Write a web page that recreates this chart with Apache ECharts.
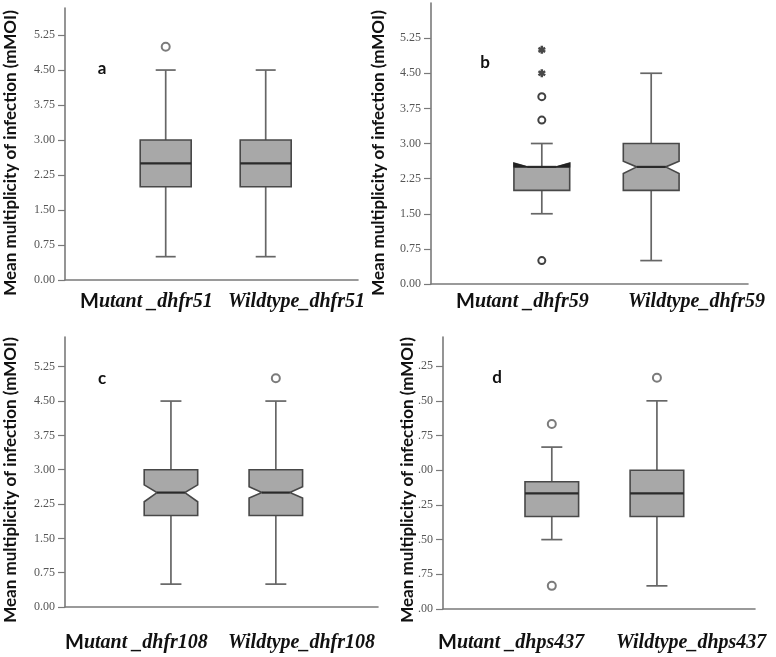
<!DOCTYPE html>
<html>
<head>
<meta charset="utf-8">
<script src="https://cdn.jsdelivr.net/npm/echarts@6/dist/echarts.min.js"></script>
<style>
  html, body { margin: 0; padding: 0; background: #fff; }
  #chart { width: 776px; height: 657px; }
</style>
</head>
<body>
<div id="chart"></div>
<script>
// tick labels shared by all four panels
const tickValues = [0, 0.75, 1.5, 2.25, 3, 3.75, 4.5, 5.25];
const panelLetters = ['a', 'b', 'c', 'd'];

// categories per panel
const categoriesA = ['Mutant _dhfr51', 'Wildtype_dhfr51'];
const categoriesB = ['Mutant _dhfr59', 'Wildtype_dhfr59'];
const categoriesC = ['Mutant _dhfr108', 'Wildtype_dhfr108'];
const categoriesD = ['Mutant _dhps437', 'Wildtype_dhps437'];

// [lower whisker, Q1, median, Q3, upper whisker]
const boxesA = [[0.5, 2.0, 2.5, 3.0, 4.5], [0.5, 2.0, 2.5, 3.0, 4.5]];
const boxesB = [[1.5, 2.0, 2.5, 2.5, 3.0], [0.5, 2.0, 2.5, 3.0, 4.5]];
const boxesC = [[0.5, 2.0, 2.5, 3.0, 4.5], [0.5, 2.0, 2.5, 3.0, 4.5]];
const boxesD = [[1.5, 2.0, 2.5, 2.75, 3.5], [0.5, 2.0, 2.5, 3.0, 4.5]];

// notch [low, high] (only panels b and c are notched)
const notchesB = [[2.5, 2.58], [2.36, 2.62]];
const notchesC = [[2.30, 2.67], [2.38, 2.63]];

// outliers (circles) and extremes (asterisks)
const outliersA = [[5.0], []];
const outliersB = [[4.0, 3.5, 0.5], []];
const extremesB = [[5.0, 4.5], []];
const outliersC = [[], [5.0]];
const outliersD = [[4.0, 0.5], [5.0]];

// page layout of the four panels
const layout = [
  { grid: { left: 65, top: 8, width: 293, height: 272 }, yMax: 5.83, xMin: -1.007, xMax: 1.923,
    title: [11, 153], letter: [102, 69], labels: [[80, 302], [228, 302]] },
  { grid: { left: 431, top: 3, width: 317, height: 281 }, yMax: 6.0, xMin: -1.013, xMax: 1.885,
    title: [379, 153], letter: [485, 63], labels: [[456, 302], [628, 302]] },
  { grid: { left: 65, top: 337, width: 313, height: 270 }, yMax: 5.9, xMin: -1.01, xMax: 1.974,
    title: [11, 480], letter: [102, 379], labels: [[65, 643], [228, 643]] },
  { grid: { left: 443, top: 337, width: 312, height: 272 }, yMax: 5.88, xMin: -1.035, xMax: 1.933,
    title: [408, 480], letter: [497, 378], labels: [[438, 643], [616, 643]] }
];

const panels = [
  { categories: categoriesA, boxes: boxesA, notches: null, outliers: outliersA, extremes: null },
  { categories: categoriesB, boxes: boxesB, notches: notchesB, outliers: outliersB, extremes: extremesB },
  { categories: categoriesC, boxes: boxesC, notches: notchesC, outliers: outliersC, extremes: null },
  { categories: categoriesD, boxes: boxesD, notches: null, outliers: outliersD, extremes: null }
];

const axisColor = '#7a7a7a';
const boxStyle = { fill: '#a8a8a8', stroke: '#484848', lineWidth: 1.6 };
const whiskerStyle = { stroke: '#666', lineWidth: 1.7 };
const asterisk = 'path://M-1.6,-5L1.6,-5L1.6,5L-1.6,5ZM3.53,-3.89L5.13,-1.11L-3.53,3.89L-5.13,1.11ZM-5.13,-1.11L-3.53,-3.89L5.13,1.11L3.53,3.89Z';

function makeRenderItem(notched) {
  return function (params, api) {
    const idx = api.value(0);
    const unit = api.size([1, 0])[0];
    const half = unit * 0.255;
    const cap = unit * 0.1;
    const cx = api.coord([idx, 0])[0];
    const py = k => api.coord([idx, api.value(k)])[1];
    const yLow = py(1), yQ1 = py(2), yMed = py(3), yQ3 = py(4), yHigh = py(5);
    const L = cx - half, R = cx + half;
    const children = [
      { type: 'line', shape: { x1: cx, y1: yQ3, x2: cx, y2: yHigh }, style: whiskerStyle },
      { type: 'line', shape: { x1: cx - cap, y1: yHigh, x2: cx + cap, y2: yHigh }, style: whiskerStyle },
      { type: 'line', shape: { x1: cx, y1: yQ1, x2: cx, y2: yLow }, style: whiskerStyle },
      { type: 'line', shape: { x1: cx - cap, y1: yLow, x2: cx + cap, y2: yLow }, style: whiskerStyle }
    ];
    let ins = 0;
    if (notched) {
      ins = half * 2 * 0.24;
      const yNLo = py(6), yNHi = py(7);
      children.push({
        type: 'polygon',
        shape: { points: [[L, yQ1], [L, yNLo], [L + ins, yMed], [L, yNHi], [L, yQ3],
                          [R, yQ3], [R, yNHi], [R - ins, yMed], [R, yNLo], [R, yQ1]] },
        style: boxStyle
      });
      if (yNHi < yQ3) {
        // notch reaching past Q3 is drawn as dark wedges on the box corners
        const wedge = { fill: '#222', stroke: '#222', lineWidth: 1.2 };
        children.push({ type: 'polygon', shape: { points: [[L, yQ3], [L + ins, yMed], [L, yNHi]] }, style: wedge });
        children.push({ type: 'polygon', shape: { points: [[R, yQ3], [R - ins, yMed], [R, yNHi]] }, style: wedge });
      }
    } else {
      children.push({ type: 'rect', shape: { x: L, y: yQ3, width: R - L, height: yQ1 - yQ3 }, style: boxStyle });
    }
    children.push({ type: 'line', shape: { x1: L + ins, y1: yMed, x2: R - ins, y2: yMed },
                    style: { stroke: '#2a2a2a', lineWidth: 2.2 } });
    return { type: 'group', children };
  };
}

const grids = [], xAxes = [], yAxes = [], series = [], graphics = [];

panels.forEach((p, i) => {
  const lay = layout[i];
  grids.push(lay.grid);
  xAxes.push({
    gridIndex: i, type: 'value', min: lay.xMin, max: lay.xMax,
    axisLine: { show: true, onZero: false, lineStyle: { color: axisColor, width: 1.6 } },
    axisTick: { show: false }, axisLabel: { show: false }, splitLine: { show: false }
  });
  yAxes.push({
    gridIndex: i, type: 'value', min: 0, max: lay.yMax, interval: 0.75,
    axisLine: { show: true, onZero: false, lineStyle: { color: axisColor, width: 1.6 } },
    axisTick: { show: true, length: 7, customValues: tickValues, lineStyle: { color: axisColor, width: 1.2 } },
    axisLabel: {
      customValues: tickValues, margin: 10,
      fontFamily: 'Liberation Serif', fontSize: 12, color: '#555',
      formatter: v => i === 3 ? v.toFixed(2).slice(1) : v.toFixed(2)
    },
    splitLine: { show: false }
  });

  const data = p.boxes.map((b, k) => [k, ...b, ...(p.notches ? p.notches[k] : [b[2], b[2]])]);
  series.push({
    type: 'custom', xAxisIndex: i, yAxisIndex: i,
    renderItem: makeRenderItem(!!p.notches),
    encode: { x: 0, y: [1, 2, 3, 4, 5] },
    data
  });

  const bold = i === 1;
  series.push({
    type: 'scatter', xAxisIndex: i, yAxisIndex: i,
    symbol: 'emptyCircle', symbolSize: bold ? 7 : 8,
    itemStyle: { color: bold ? '#111' : '#5a5a5a', borderWidth: bold ? 2.4 : 1.6 },
    data: p.outliers.flatMap((vals, k) => vals.map(v => [k, v]))
  });
  if (p.extremes) {
    series.push({
      type: 'scatter', xAxisIndex: i, yAxisIndex: i,
      symbol: asterisk, symbolSize: 8,
      itemStyle: { color: '#1a1a1a' },
      data: p.extremes.flatMap((vals, k) => vals.map(v => [k, v]))
    });
  }

  graphics.push({
    type: 'text', x: lay.title[0], y: lay.title[1], rotation: Math.PI / 2,
    style: { text: 'Mean multiplicity of infection (mMOI)', fontFamily: 'Lato', fontWeight: 'bold',
             fontSize: 17, fill: '#111', align: 'center', verticalAlign: 'middle' }
  });
  graphics.push({
    type: 'text', x: lay.letter[0], y: lay.letter[1],
    style: { text: panelLetters[i], fontFamily: 'Lato', fontWeight: 'bold', fontSize: 17,
             fill: '#111', align: 'center', verticalAlign: 'middle' }
  });
  p.categories.forEach((c, k) => {
    const isMutant = c.charAt(0) === 'M';
    graphics.push({
      type: 'text', x: lay.labels[k][0], y: lay.labels[k][1],
      style: {
        text: isMutant ? '{m|M}{t|' + c.slice(1) + '}' : '{t|' + c + '}',
        align: 'left', verticalAlign: 'middle', fill: '#111',
        rich: {
          m: { fontFamily: 'Lato', fontWeight: 'bold', fontSize: 20, fill: '#111' },
          t: { fontFamily: 'Liberation Serif', fontWeight: 'bold', fontStyle: 'italic', fontSize: 20, fill: '#111' }
        }
      }
    });
  });
});

const chart = echarts.init(document.getElementById('chart'));
chart.setOption({
  backgroundColor: '#fff',
  animation: false,
  grid: grids,
  xAxis: xAxes,
  yAxis: yAxes,
  series,
  graphic: graphics
});
</script>
</body>
</html>
